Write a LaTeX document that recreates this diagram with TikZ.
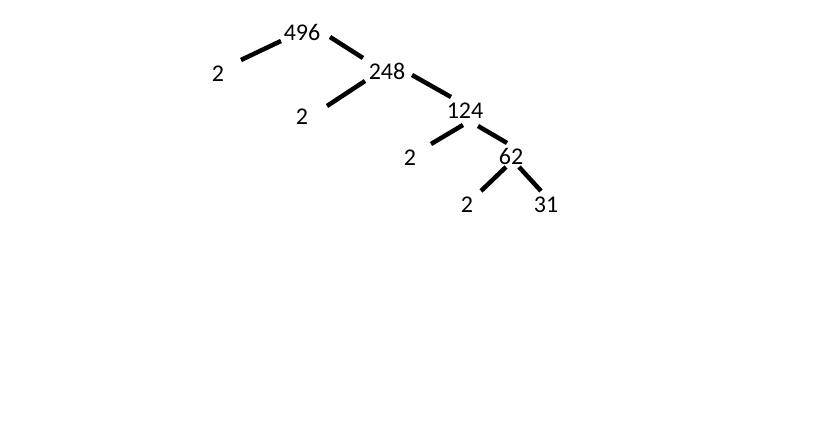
\documentclass[tikz,border=0pt]{standalone}
\usepackage{fontspec}
\setmainfont{Carlito}
\usetikzlibrary{calc}
\begin{document}
\begin{tikzpicture}[x=1pt,y=-1pt,
 number/.style ={inner sep=0pt,font=\fontsize{24}{28}\selectfont},
 branch/.style ={-,line width=4.5pt,draw=black}
 ]
\useasboundingbox (0,0) rectangle (819,430);
%draw numbers
\node[number] (n496) at (302,32) {496};
\node[number] (twoA) at (218,74) {2};
\node[number] (n248) at (387,71) {248};
\node[number] (twoB) at (302,117) {2};
\node[number] (n124) at (465,111) {124};
\node[number] (twoC) at (410,158) {2};
\node[number] (n62) at (511,156) {62};
\node[number] (twoD) at (467,205) {2};
\node[number] (n31) at (546,205) {31};
%draw branches
\draw[branch] ($(n496)+(-21,9)$) -- ($(twoA)+(23,-14)$);
\draw[branch] ($(n496)+(28,5)$) -- ($(n248)+(-24,-13)$);
\draw[branch] ($(n248)+(-22,10)$) -- ($(twoB)+(25,-11)$);
\draw[branch] ($(n248)+(25,4)$) -- ($(n124)+(-14,-14)$);
\draw[branch] ($(n124)+(-2,14)$) -- ($(twoC)+(21,-14)$);
\draw[branch] ($(n124)+(13,15)$) -- ($(n62)+(-4,-13)$);
\draw[branch] ($(n62)+(-5,11)$) -- ($(twoD)+(14,-14)$);
\draw[branch] ($(n62)+(8,11)$) -- ($(n31)+(-5,-14)$);
\end{tikzpicture}
\end{document}
